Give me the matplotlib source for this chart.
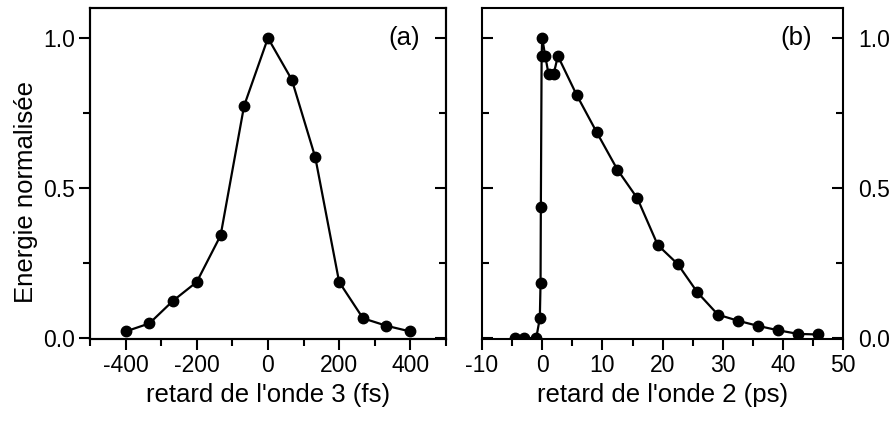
import numpy as np
import matplotlib
matplotlib.use('Agg')
import matplotlib.pyplot as plt
from matplotlib.ticker import MultipleLocator, FormatStrFormatter

plt.rcParams['font.family'] = ['Liberation Sans', 'DejaVu Sans']
plt.rcParams['font.size'] = 16.5
plt.rcParams['axes.unicode_minus'] = False

# panneau (a) : retard de l'onde 3 (fs)
retard_a = [-400, -333, -267, -200, -133, -67, 0, 67, 133, 200, 267, 333, 400]
energie_a = [0.022, 0.049, 0.124, 0.187, 0.342, 0.774, 1.0, 0.861, 0.602, 0.187, 0.066, 0.041, 0.022]

# panneau (b) : retard de l'onde 2 (ps)
retard_b = [-4.45, -3.06, -1.0, -0.4, -0.28, -0.23, -0.1, 0.0, 0.5, 1.05, 1.9, 2.6,
            5.7, 9.05, 12.5, 15.8, 19.2, 22.5, 25.8, 29.2, 32.5, 35.8, 39.2, 42.5, 45.8]
energie_b = [0.0, 0.0, 0.0, 0.066, 0.183, 0.436, 0.94, 1.0, 0.94, 0.88, 0.88, 0.94,
             0.811, 0.686, 0.561, 0.466, 0.31, 0.247, 0.152, 0.078, 0.058, 0.041, 0.026, 0.014, 0.012]

fig = plt.figure(figsize=(8.96, 4.23), dpi=100)
ax1 = fig.add_axes([0.1004, 0.1986, 0.3973, 0.7825])
ax2 = fig.add_axes([0.538, 0.1986, 0.403, 0.7825])

style = dict(color='black', lw=1.6, marker='o', ms=7.5)
ax1.plot(retard_a, energie_a, **style)
ax2.plot(retard_b, energie_b, **style)

for ax in (ax1, ax2):
    for s in ax.spines.values():
        s.set_linewidth(1.5)
    ax.set_ylim(-0.003, 1.10)
    ax.yaxis.set_major_locator(MultipleLocator(0.5))
    ax.yaxis.set_minor_locator(MultipleLocator(0.25))
    ax.yaxis.set_major_formatter(FormatStrFormatter('%.1f'))
    ax.tick_params(axis='x', which='major', direction='out', length=8, width=1.5, pad=3, top=False)
    ax.tick_params(axis='x', which='minor', direction='out', length=5, width=1.5, top=False)
    ax.tick_params(axis='y', which='major', direction='in', length=8, width=1.5, left=True, right=True)
    ax.tick_params(axis='y', which='minor', direction='in', length=5, width=1.5, left=True, right=True)

# (a) : graduations gauche vers l'extérieur, droite vers l'intérieur (via twinx)
ax1.set_xlim(-500, 500)
ax1.xaxis.set_major_locator(MultipleLocator(200))
ax1.xaxis.set_minor_locator(MultipleLocator(100))
ax1.tick_params(axis='y', which='both', right=False, direction='out', pad=3)
ax1.set_xlabel("retard de l'onde 3 (fs)", fontsize=18.5, labelpad=4)
ax1.set_ylabel('Energie normalisée', fontsize=18.5)
ax1.yaxis.set_label_coords(-0.145, 0.443)
ax1.text(0.927, 0.91, '(a)', transform=ax1.transAxes, ha='right', va='center', fontsize=18.5)

ax1r = ax1.twinx()
ax1r.set_ylim(ax1.get_ylim())
ax1r.yaxis.set_major_locator(MultipleLocator(0.5))
ax1r.yaxis.set_minor_locator(MultipleLocator(0.25))
ax1r.tick_params(axis='y', which='major', direction='in', length=8, width=1.5, labelright=False)
ax1r.tick_params(axis='y', which='minor', direction='in', length=5, width=1.5)
for s in ax1r.spines.values():
    s.set_linewidth(1.5)

ax2.set_xlim(-10, 50)
ax2.xaxis.set_major_locator(MultipleLocator(10))
ax2.xaxis.set_minor_locator(MultipleLocator(5))
ax2.tick_params(axis='y', which='both', labelleft=False, labelright=True, pad=11)
ax2.set_xlabel("retard de l'onde 2 (ps)", fontsize=18.5, labelpad=4)
ax2.text(0.914, 0.91, '(b)', transform=ax2.transAxes, ha='right', va='center', fontsize=18.5)

fig.savefig('out.png', dpi=100)
